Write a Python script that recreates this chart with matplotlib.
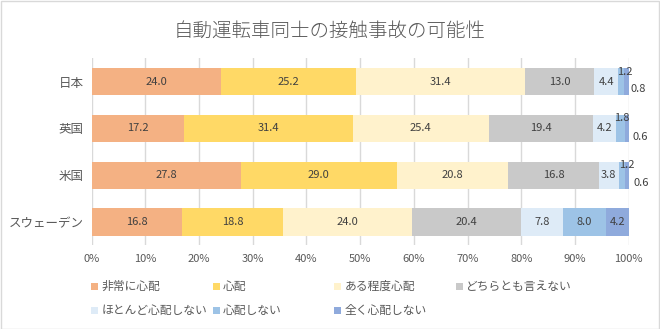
import matplotlib
matplotlib.use("Agg")
import matplotlib.pyplot as plt
from matplotlib.patches import Rectangle
import numpy as np

plt.rcParams['font.family'] = ['Noto Sans CJK JP', 'DejaVu Sans']

title = "自動運転車同士の接触事故の可能性"
categories = ["日本", "英国", "米国", "スウェーデン"]
series_names = ["非常に心配", "心配", "ある程度心配", "どちらとも言えない",
                "ほとんど心配しない", "心配しない", "全く心配しない"]
values = {
    "非常に心配":       [24.0, 17.2, 27.8, 16.8],
    "心配":             [25.2, 31.4, 29.0, 18.8],
    "ある程度心配":     [31.4, 25.4, 20.8, 24.0],
    "どちらとも言えない": [13.0, 19.4, 16.8, 20.4],
    "ほとんど心配しない": [4.4, 4.2, 3.8, 7.8],
    "心配しない":       [1.2, 1.8, 1.2, 8.0],
    "全く心配しない":   [0.8, 0.6, 0.6, 4.2],
}
xticks = [0, 10, 20, 30, 40, 50, 60, 70, 80, 90, 100]
xtick_labels = [f"{t}%" for t in xticks]

colors = ["#F4B183", "#FFD966", "#FFF2CC", "#C9C9C9", "#DEEBF7", "#9DC3E6", "#8FAADC"]

# pixel offsets for small labels (series index, category index) -> (dx, dy)
label_offsets = {
    (5, 0): (4, 10), (6, 0): (12, -7),
    (5, 1): (1, 10), (6, 1): (13, -9),
    (5, 2): (5, 10), (6, 2): (14, -8),
}

W, H = 660, 329
fig = plt.figure(figsize=(W / 100, H / 100), dpi=100)
fig.patch.set_facecolor("white")
fig.add_artist(Rectangle((0.5 / W, 0.5 / H), 1 - 1.5 / W, 1 - 1.5 / H, transform=fig.transFigure,
                         fill=False, edgecolor="#D9D9D9", linewidth=1))

ax = fig.add_axes([91.7 / W, 1 - 245.4 / H, (628.7 - 91.7) / W, (245.4 - 58.3) / H])
y = np.arange(len(categories))
left = np.zeros(len(categories))
for si, name in enumerate(series_names):
    vals = np.array(values[name])
    ax.barh(y, vals, left=left, height=0.58, color=colors[si], zorder=2)
    for ci, v in enumerate(vals):
        cx = left[ci] + v / 2
        dx, dy = label_offsets.get((si, ci), (0, 0))
        ax.annotate(f"{v:.1f}", (cx, y[ci]), xytext=(dx, dy), textcoords="offset pixels",
                    ha="center", va="center", fontsize=8, color="#404040", zorder=3)
    left += vals

ax.set_xlim(0, 100)
ax.set_ylim(len(categories) - 0.5, -0.5)
ax.set_xticks(xticks)
ax.set_xticklabels(xtick_labels, fontsize=8, color="#595959")
ax.set_yticks(y)
ax.set_yticklabels(categories, fontsize=9, color="#595959")
ax.tick_params(length=0, pad=6)
ax.grid(axis="x", color="#D9D9D9", linewidth=1, zorder=0)
for s in ax.spines.values():
    s.set_visible(False)

fig.text(330 / W, 1 - 31 / H, title, ha="center", va="center", fontsize=14,
         fontweight="light", color="#595959")

# legend
col_x = [91, 212.5, 334, 455.5]
row_y = [286, 310]
for i, name in enumerate(series_names):
    r, c = divmod(i, 4)
    x0 = col_x[c]
    y0 = row_y[r]
    fig.add_artist(Rectangle((x0 / W, 1 - (y0 + 3.5) / H), 7 / W, 7 / H, transform=fig.transFigure,
                             facecolor=colors[i], edgecolor="none"))
    fig.text((x0 + 10.5) / W, 1 - y0 / H, name, ha="left", va="center", fontsize=8.5, color="#595959")

fig.savefig("out.png", dpi=100)
